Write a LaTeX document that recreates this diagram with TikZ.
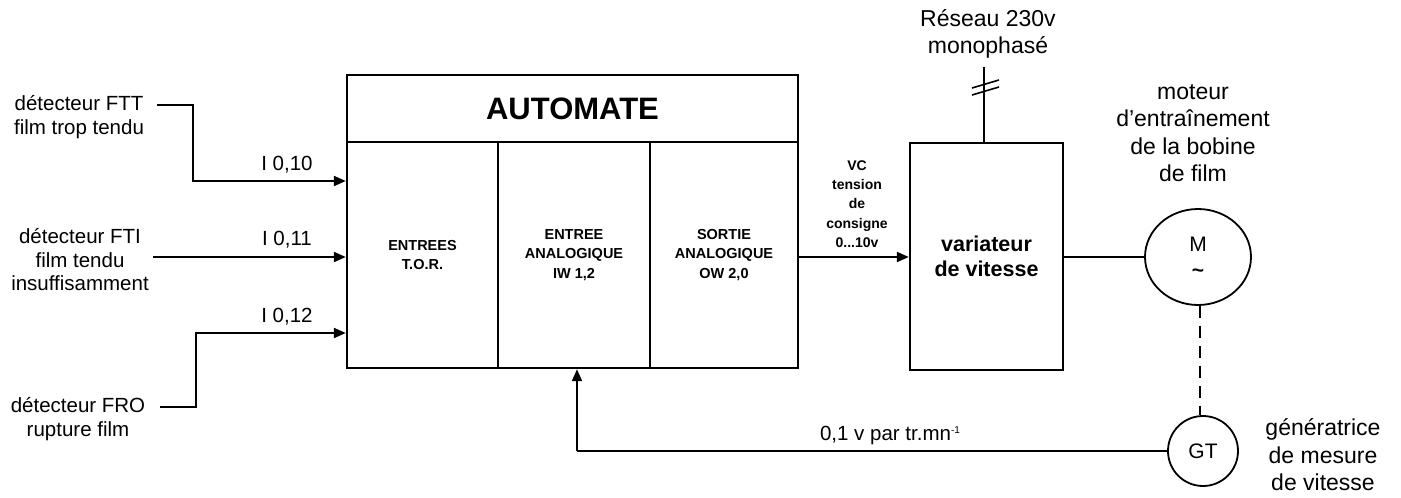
\documentclass[tikz,border=0pt]{standalone}
\usepackage{fontspec}
\setmainfont{Liberation Sans}
\usetikzlibrary{arrows.meta,shapes.geometric}
\begin{document}
\begin{tikzpicture}[x=1pt,y=-1pt,
  box/.style={draw,line width=2.4pt,inner sep=0pt,align=center},
  conn/.style={line width=2pt},
  arr/.style={conn,-{Triangle[length=12pt,width=10pt]}},
  lbl/.style={align=center,inner sep=0pt,font=\fontsize{20.5}{23.5}\selectfont},
  big/.style={align=center,inner sep=0pt,font=\fontsize{23}{27.5}\selectfont},
  sub/.style={font=\bfseries\fontsize{14.5}{19.5}\selectfont},
  circ/.style={draw,line width=1.8pt,inner sep=0pt,align=center,font=\fontsize{21}{28}\selectfont}
]
\useasboundingbox (0,0) rectangle (1401,498);

% automate
\node[box,minimum width=451pt,minimum height=67pt,font=\bfseries\fontsize{31}{34}\selectfont] (title) at (572.5,108.5) {AUTOMATE};
\node[box,sub,minimum width=151pt,minimum height=226pt] (tor) at (422.5,255) {ENTREES\\T.O.R.};
\node[box,sub,minimum width=152pt,minimum height=226pt] (ea) at (574,255) {ENTREE\\ANALOGIQUE\\IW 1,2};
\node[box,sub,minimum width=148pt,minimum height=226pt] (sa) at (724,255) {SORTIE\\ANALOGIQUE\\OW 2,0};

% variateur
\node[box,minimum width=153pt,minimum height=227pt,font=\bfseries\fontsize{21.5}{25}\selectfont] (var) at (986.5,256.5) {variateur\\de vitesse};

% left inputs
\node[lbl] (ftt) at (79,117) {détecteur FTT\\film trop tendu};
\node[lbl] (fti) at (80,260) {détecteur FTI\\film tendu\\insuffisamment};
\node[lbl] (fro) at (78,419) {détecteur FRO\\rupture film};
\coordinate (ftte) at (157,105);
\coordinate (froe) at (160,407);

\draw[arr] (ftte) -- (193,105) |- (tor.west |- 0,181);
\draw[arr] (fti.east |- 0,257) ++(4,0) -- (tor.west |- 0,257);
\draw[arr] (froe) -- (196,407) |- (tor.west |- 0,333);

\node[lbl] (i10) at (287,165) {I 0,10};
\node[lbl] (i11) at (287,240) {I 0,11};
\node[lbl] (i12) at (287,317) {I 0,12};

% consigne
\draw[arr] (sa.east |- 0,257) -- (var.west |- 0,257);
\node[align=center,inner sep=0pt,font=\bfseries\fontsize{14}{19.3}\selectfont] (vc) at (857,204) {VC\\tension\\de\\consigne\\0...10v};

% reseau
\node[big] (res) at (988,34) {Réseau 230v\\monophasé};
\coordinate (rese) at (984,67);
\draw[conn] (rese) -- (rese |- var.north);
\draw[line width=1.6pt] (972,88) -- (999,80);
\draw[line width=1.6pt] (972,95) -- (999,87);

% motor
\node[circ,ellipse,minimum width=106pt,minimum height=96pt] (mot) at (1198,257) {M\\[-2pt]\textbf{\char`~}};
\draw[conn] (var.east |- mot.west) -- (mot.west);
\node[big] (motl) at (1193,133) {moteur\\d'entraînement\\de la bobine\\de film};

% GT
\node[circ,circle,minimum size=70pt] (gt) at (1203,451) {GT};
\draw[line width=1.8pt,dash pattern=on 12pt off 8pt] (mot.south -| 1200,0) -- (gt.north -| 1200,0);
\node[big] (gtl) at (1323,455) {génératrice\\de mesure\\de vitesse};

% feedback
\coordinate (fb) at (577,451);
\draw[conn] (gt.west) -- (fb);
\draw[arr] (fb) -- (fb |- ea.south);
\node[lbl] (fbl) at (890,435) {0,1 v par tr.mn\raisebox{7pt}{\fontsize{10}{10}\selectfont -1}};
\end{tikzpicture}
\end{document}
